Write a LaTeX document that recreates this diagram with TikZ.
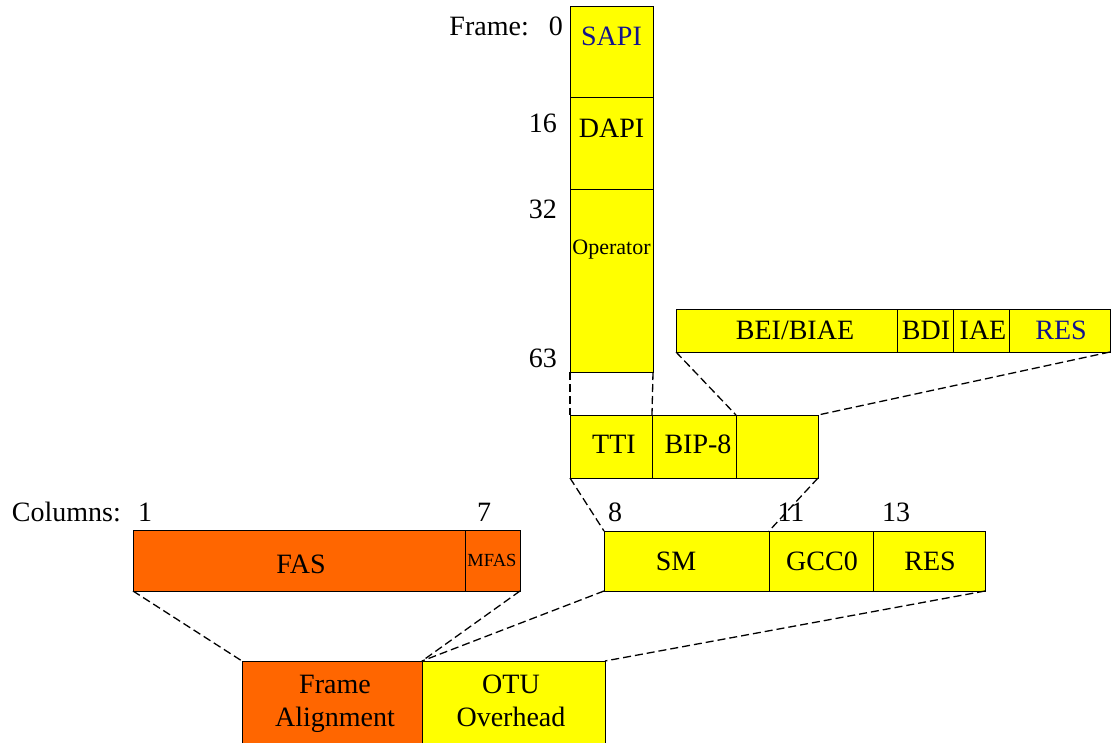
\documentclass[tikz,border=0pt]{standalone}
\usepackage{fontspec}
\setmainfont{Liberation Serif}
\definecolor{cyel}{RGB}{255,255,0}
\definecolor{corg}{RGB}{255,102,0}
\definecolor{cblu}{RGB}{20,20,140}
\tikzset{
  cell/.style={draw=black, line width=1pt, inner sep=0pt, outer sep=0pt, anchor=north west},
  ycell/.style={cell, fill=cyel},
  ocell/.style={cell, fill=corg},
  txt/.style={inner sep=0pt, anchor=base, font=\fontsize{28}{32}\selectfont},
  small/.style={txt, font=\fontsize{22}{26}\selectfont},
  tiny/.style={txt, font=\fontsize{18.5}{22}\selectfont},
  lbl/.style={txt, anchor=base east},
  dline/.style={line width=1.3pt, dash pattern=on 8pt off 4pt},
}
\begin{document}
\begin{tikzpicture}[x=1pt,y=-1pt]
\path[use as bounding box] (0,0) rectangle (1111,742);
\clip (0,0) rectangle (1111,742);
% frame column
\node[ycell, minimum width=83pt, minimum height=91pt] (sapi) at (570,6) {};
\node[ycell, minimum width=83pt, minimum height=92pt] (dapi) at (570,97) {};
\node[ycell, minimum width=83pt, minimum height=183pt] (oper) at (570,189) {};
\node[txt, text=cblu] (tsapi) at (611.5,45) {SAPI};
\node[txt] (tdapi) at (611.5,137) {DAPI};
\node[small] (toper) at (611.5,254) {Operator};
\node[lbl] (lframe) at (529,35) {Frame:};
\node[lbl] (l0) at (563,35) {0};
\node[lbl] (l16) at (557,132) {16};
\node[lbl] (l32) at (557,218) {32};
\node[lbl] (l63) at (557,367) {63};
% BEI row
\node[ycell, minimum width=221pt, minimum height=43pt] (bei) at (676,309) {};
\node[ycell, minimum width=56pt, minimum height=43pt] (bdi) at (897,309) {};
\node[ycell, minimum width=56pt, minimum height=43pt] (iae) at (953,309) {};
\node[ycell, minimum width=101pt, minimum height=43pt] (resa) at (1009,309) {};
\node[txt] (tbei) at (795,339) {BEI/BIAE};
\node[txt] (tbdi) at (926,339) {BDI};
\node[txt] (tiae) at (983,339) {IAE};
\node[txt, text=cblu] (tresa) at (1061,339) {RES};
% TTI row
\node[ycell, minimum width=82pt, minimum height=63pt] (tti) at (570,415) {};
\node[ycell, minimum width=84pt, minimum height=63pt] (bip) at (652,415) {};
\node[ycell, minimum width=82pt, minimum height=63pt] (blank) at (736,415) {};
\node[txt] (ttti) at (614,453) {TTI};
\node[txt] (tbip) at (698,453) {BIP-8};
% columns labels
\node[lbl] (lcol) at (121,521) {Columns:};
\node[txt] (c1) at (145,521) {1};
\node[txt] (c7) at (484,521) {7};
\node[txt] (c8) at (615,521) {8};
\node[txt] (c11) at (791,521) {11};
\node[txt] (c13) at (896,521) {13};
% FAS row
\node[ocell, minimum width=332pt, minimum height=61pt] (fas) at (133,530) {};
\node[ocell, minimum width=55pt, minimum height=61pt] (mfas) at (465,530) {};
\node[txt] (tfas) at (301,573) {FAS};
\node[tiny] (tmfas) at (492,566) {MFAS};
% SM row
\node[ycell, minimum width=165pt, minimum height=60pt] (sm) at (604,531) {};
\node[ycell, minimum width=104pt, minimum height=60pt] (gcc) at (769,531) {};
\node[ycell, minimum width=112pt, minimum height=60pt] (resb) at (873,531) {};
\node[txt] (tsm) at (676,570) {SM};
\node[txt] (tgcc) at (822,570) {GCC0};
\node[txt] (tresb) at (930,570) {RES};
% bottom
\node[ocell, minimum width=180pt, minimum height=100pt] (fa) at (242,661) {};
\node[ycell, minimum width=183pt, minimum height=100pt] (otu) at (422,661) {};
\node[txt] (tfa1) at (335,693) {Frame};
\node[txt] (tfa2) at (335,726) {Alignment};
\node[txt] (totu1) at (511,693) {OTU};
\node[txt] (totu2) at (511,726) {Overhead};
% dashed connectors
\draw[dline] (oper.south west) -- (tti.north west);
\draw[dline] (oper.south east) -- (tti.north east);
\draw[dline] (bei.south west) -- (bip.north east);
\draw[dline] (resa.south east) -- (blank.north east);
\draw[dline] (tti.south west) -- (sm.north west);
\draw[dline] (blank.south east) -- (sm.north east);
\draw[dline] (fas.south west) -- (fa.north west);
\draw[dline] (mfas.south east) -- (fa.north east);
\draw[dline] (sm.south west) -- (fa.north east);
\draw[dline] (resb.south east) -- (otu.north east);
\end{tikzpicture}
\end{document}
